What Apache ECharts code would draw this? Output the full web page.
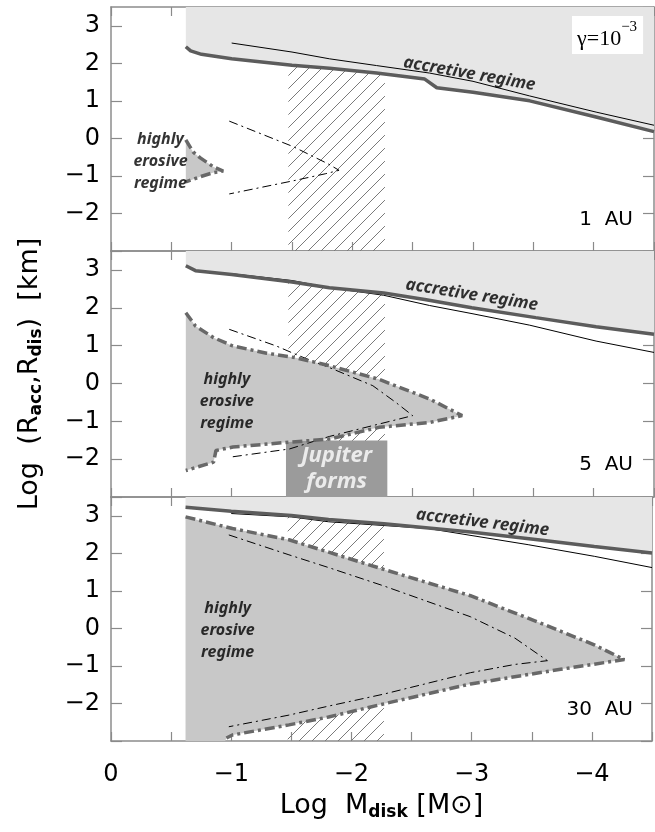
<!DOCTYPE html>
<html>
<head>
<meta charset="utf-8">
<script src="https://cdn.jsdelivr.net/npm/echarts@6/dist/echarts.min.js"></script>
<style>
  html, body { margin: 0; padding: 0; background: #fff; }
  #chart { width: 655px; height: 832px; }
</style>
</head>
<body>
<div id="chart"></div>
<script>
// tick values
const xMajor = [0, -1, -2, -3, -4]
const hatchBand = [-1.47, -2.27]
const jupiterBox = [[-1.45, -1.51], [-2.29, -3]]
const auLabels = ['1  AU', '5  AU', '30  AU']

// 1 AU
const acc1Thick = [[-0.62, 2.44], [-0.66, 2.33], [-0.75, 2.24], [-1.0, 2.12], [-1.5, 1.95], [-1.81, 1.87], [-2.2, 1.74], [-2.6, 1.58], [-2.7, 1.35], [-3.0, 1.23], [-3.47, 1.0], [-4.02, 0.57], [-4.5, 0.18]]
const acc1Thin = [[-1.0, 2.54], [-1.5, 2.30], [-1.81, 2.12], [-2.2, 1.94], [-2.64, 1.74], [-3.0, 1.52], [-3.47, 1.13], [-4.02, 0.70], [-4.5, 0.35]]
const ero1Thick = [[-0.62, -0.04], [-0.68, -0.36], [-0.74, -0.52], [-0.85, -0.76], [-0.93, -0.87], [-0.85, -0.91], [-0.74, -1.02], [-0.62, -1.16]]
const ero1Thin = [[-0.98, 0.46], [-1.51, -0.22], [-1.80, -0.68], [-1.89, -0.85], [-1.78, -0.94], [-1.51, -1.13], [-0.98, -1.48]]

// 5 AU
const acc2Thick = [[-0.62, 3.11], [-0.7, 2.98], [-1.0, 2.88], [-1.5, 2.68], [-1.81, 2.53], [-2.26, 2.39], [-2.6, 2.22], [-2.99, 2.0], [-3.52, 1.74], [-4.02, 1.5], [-4.5, 1.30]]
const acc2Thin = [[-1.0, 2.90], [-1.5, 2.72], [-1.81, 2.53], [-2.26, 2.33], [-2.64, 2.06], [-3.0, 1.84], [-3.47, 1.54], [-4.02, 1.12], [-4.5, 0.82]]
const ero2Thick = [[-0.62, 1.87], [-0.70, 1.52], [-0.85, 1.21], [-1.01, 0.99], [-1.29, 0.80], [-1.53, 0.68], [-1.81, 0.47], [-2.22, 0.11], [-2.64, -0.41], [-2.91, -0.85], [-2.64, -1.03], [-2.22, -1.16], [-1.81, -1.47], [-1.48, -1.55], [-1.01, -1.68], [-0.87, -1.77], [-0.85, -2.08], [-0.62, -2.30]]
const ero2Thin = [[-0.98, 1.43], [-1.37, 0.99], [-1.56, 0.73], [-1.81, 0.42], [-2.17, -0.06], [-2.36, -0.50], [-2.50, -0.85], [-1.81, -1.40], [-1.48, -1.73], [-0.98, -1.95]]

// 30 AU
const acc3Thick = [[-0.62, 3.23], [-1.0, 3.12], [-1.5, 3.01], [-1.81, 2.90], [-2.27, 2.79], [-2.99, 2.57], [-3.55, 2.36], [-4.02, 2.18], [-4.5, 2.01]]
const acc3Thin = [[-1.0, 3.06], [-1.5, 2.97], [-1.81, 2.84], [-2.64, 2.66], [-3.47, 2.23], [-4.02, 1.92], [-4.5, 1.62]]
const ero3Thick = [[-0.62, 2.97], [-1.01, 2.66], [-1.48, 2.36], [-1.81, 2.03], [-2.27, 1.57], [-2.99, 0.87], [-3.55, 0.17], [-4.02, -0.44], [-4.27, -0.83], [-3.74, -1.09], [-2.99, -1.48], [-2.27, -2.01], [-1.81, -2.36], [-1.48, -2.57], [-1.01, -2.84], [-0.96, -2.92]]
const ero3Thin = [[-0.98, 2.49], [-1.48, 1.96], [-1.81, 1.62], [-2.27, 1.13], [-2.99, 0.31], [-3.36, -0.26], [-3.63, -0.86], [-3.36, -0.96], [-2.99, -1.18], [-2.27, -1.75], [-1.81, -2.07], [-1.48, -2.31], [-0.98, -2.62]]

const panels = [
  { thick: acc1Thick, thin: acc1Thin, eroThick: ero1Thick, eroThin: ero1Thin, eroFill: ero1Thick },
  { thick: acc2Thick, thin: acc2Thin, eroThick: ero2Thick, eroThin: ero2Thin, eroFill: ero2Thick },
  { thick: acc3Thick, thin: acc3Thin, eroThick: ero3Thick, eroThin: ero3Thin, eroFill: ero3Thick.concat([[-0.95, -3], [-0.62, -3]]) }
]

// text placement (data coords) and rotation
const accLabels = [[-2.97, 1.72, -10], [-2.99, 2.34, -9], [-3.09, 2.82, -7]]
const eroLabels = [[-0.41, -0.62], [-0.96, -0.47], [-0.97, -0.05]]

const F = 'DejaVu Sans'
const B = 'Noto Sans'
const FRAME = '#8c8c8c'
const TICK = '#8a8a8a'

const grids = [
  { left: 111, top: 7, width: 543, height: 244 },
  { left: 111, top: 251, width: 543, height: 246 },
  { left: 111, top: 497, width: 543, height: 244 }
]

// hatch pattern
const hatch = document.createElement('canvas')
hatch.width = 13
hatch.height = 13
const hc = hatch.getContext('2d')
hc.strokeStyle = '#7a7a7a'
hc.lineWidth = 1
hc.beginPath()
hc.moveTo(0, 13); hc.lineTo(13, 0)
hc.moveTo(-6.5, 6.5); hc.lineTo(6.5, -6.5)
hc.moveTo(6.5, 19.5); hc.lineTo(19.5, 6.5)
hc.stroke()

const minus = v => String(v).replace('-', '\u2212')

const subRich = {
  n: { fontFamily: F, fontSize: 27, color: '#000', lineHeight: 29, verticalAlign: 'top' },
  s: { fontFamily: F, fontSize: 17, fontWeight: 'bold', color: '#000', lineHeight: 17, padding: [15, 0, 0, 0], verticalAlign: 'bottom' }
}

const axisLine = { show: true, onZero: false, lineStyle: { color: FRAME, width: 1.5 } }

const xAxes = []
const yAxes = []
grids.forEach((g, i) => {
  ;['bottom', 'top'].forEach(pos => {
    xAxes.push({
      gridIndex: i, type: 'value', min: -4.5, max: 0, inverse: true, interval: 0.5, position: pos,
      axisLine, splitLine: { show: false },
      axisTick: { show: true, inside: true, length: 9, lineStyle: { color: TICK, width: 1.2 } },
      axisLabel: { show: false }
    })
  })
  ;['left', 'right'].forEach(pos => {
    yAxes.push({
      gridIndex: i, type: 'value', min: -3, max: 3.5, interval: 1, position: pos,
      axisLine, splitLine: { show: false },
      axisTick: { show: true, inside: true, length: 11, lineStyle: { color: TICK, width: 1.2 } },
      axisLabel: {
        show: pos === 'left', formatter: v => (v === -3 ? '' : minus(v)),
        fontFamily: F, fontSize: 24, color: '#000', margin: 11
      },
      ...(i === 1 && pos === 'left' ? {
        name: '{n|Log  (R}{s|acc}{n|,R}{s|dis}{n|)  [km]}',
        nameLocation: 'middle', nameGap: 66, nameRotate: 90,
        nameTextStyle: { rich: subRich }
      } : {})
    })
  })
})
// labels and title on the bottom panel
Object.assign(xAxes[4], {
  axisLabel: { show: true, formatter: v => (xMajor.includes(v) ? minus(v) : ''), fontFamily: F, fontSize: 24, color: '#000', margin: 22 },
  name: '{n|Log  M}{s|disk}{n| [M\u2299]}',
  nameLocation: 'middle', nameGap: 51,
  nameTextStyle: { rich: subRich }
})

const series = []
panels.forEach((p, i) => {
  const ax = { xAxisIndex: i * 2, yAxisIndex: i * 2 }
  // accretive regime (to top)
  series.push({
    type: 'line', ...ax, z: 1, silent: true, showSymbol: false, data: p.thick,
    lineStyle: { width: 0 }, areaStyle: { color: '#e6e6e6', opacity: 1, origin: 'end' }
  })
  // highly erosive region
  series.push({
    type: 'custom', ...ax, z: 2, silent: true, clip: true, data: [p.eroFill[0]],
    renderItem: (params, api) => ({
      type: 'polygon',
      shape: { points: p.eroFill.map(pt => api.coord(pt)) },
      style: { fill: '#c8c8c8' }
    })
  })
  // hatched band
  series.push({
    type: 'line', ...ax, z: 4, silent: true, showSymbol: false, data: [],
    markArea: {
      silent: true,
      itemStyle: { color: { image: hatch, repeat: 'repeat' } },
      data: [[{ xAxis: hatchBand[0] }, { xAxis: hatchBand[1] }]]
    }
  })
  if (i === 1) {
    series.push({
      type: 'line', ...ax, z: 3, silent: true, showSymbol: false, data: [],
      markArea: {
        silent: true,
        itemStyle: { color: '#9b9b9b' },
        data: [[{ xAxis: jupiterBox[0][0], yAxis: jupiterBox[0][1] }, { xAxis: jupiterBox[1][0], yAxis: jupiterBox[1][1] }]]
      }
    })
  }
  series.push({
    type: 'line', ...ax, z: 5, silent: true, showSymbol: false, data: p.thin,
    lineStyle: { color: '#000', width: 1 }
  })
  series.push({
    type: 'line', ...ax, z: 6, silent: true, showSymbol: false, data: p.thick,
    lineStyle: { color: '#5c5c5c', width: 3.5 }
  })
  series.push({
    type: 'line', ...ax, z: 5, silent: true, showSymbol: false, data: p.eroThin,
    lineStyle: { color: '#000', width: 1, type: [9, 4, 2, 4] }
  })
  series.push({
    type: 'line', ...ax, z: 6, silent: true, showSymbol: false, data: p.eroThick,
    lineStyle: { color: '#686868', width: 3.5, type: [10, 4, 3, 4] }
  })
  // text
  const labels = [
    { value: accLabels[i].slice(0, 2), label: { formatter: 'accretive regime', rotate: accLabels[i][2], fontSize: 17 } },
    { value: eroLabels[i], label: { formatter: 'highly\nerosive\nregime', lineHeight: 22 } }
  ]
  if (i === 1) {
    labels.push({ value: [-1.87, -2.25], label: { formatter: 'Jupiter\nforms', color: '#fff', fontSize: 22, lineHeight: 26 } })
  }
  series.push({
    type: 'scatter', ...ax, z: 10, silent: true, symbolSize: 0, data: labels,
    label: {
      show: true, position: 'inside', color: '#000', fontFamily: B,
      fontStyle: 'italic', fontWeight: 'bold', fontSize: 16
    }
  })
})

const auY = [220, 465, 710]
const graphic = auLabels.map((t, i) => ({
  type: 'text', x: 633, y: auY[i], z: 20, silent: true,
  style: { text: t, fontFamily: F, fontSize: 20, fill: '#000', align: 'right', verticalAlign: 'middle' }
}))
graphic.push({
  type: 'text', x: 572, y: 16, z: 20, silent: true,
  style: {
    text: '{g|\u03b3=10}{e|\u22123}',
    backgroundColor: '#fff', padding: [4, 6, 4, 5],
    rich: {
      g: { fontFamily: 'Liberation Serif', fontSize: 22, fill: '#000', lineHeight: 30, verticalAlign: 'bottom' },
      e: { fontFamily: 'Liberation Serif', fontSize: 15, fill: '#000', lineHeight: 15, verticalAlign: 'top' }
    }
  }
})

const chart = echarts.init(document.getElementById('chart'))
chart.setOption({
  animation: false,
  backgroundColor: '#fff',
  grid: grids,
  xAxis: xAxes,
  yAxis: yAxes,
  series,
  graphic
})
</script>
</body>
</html>
